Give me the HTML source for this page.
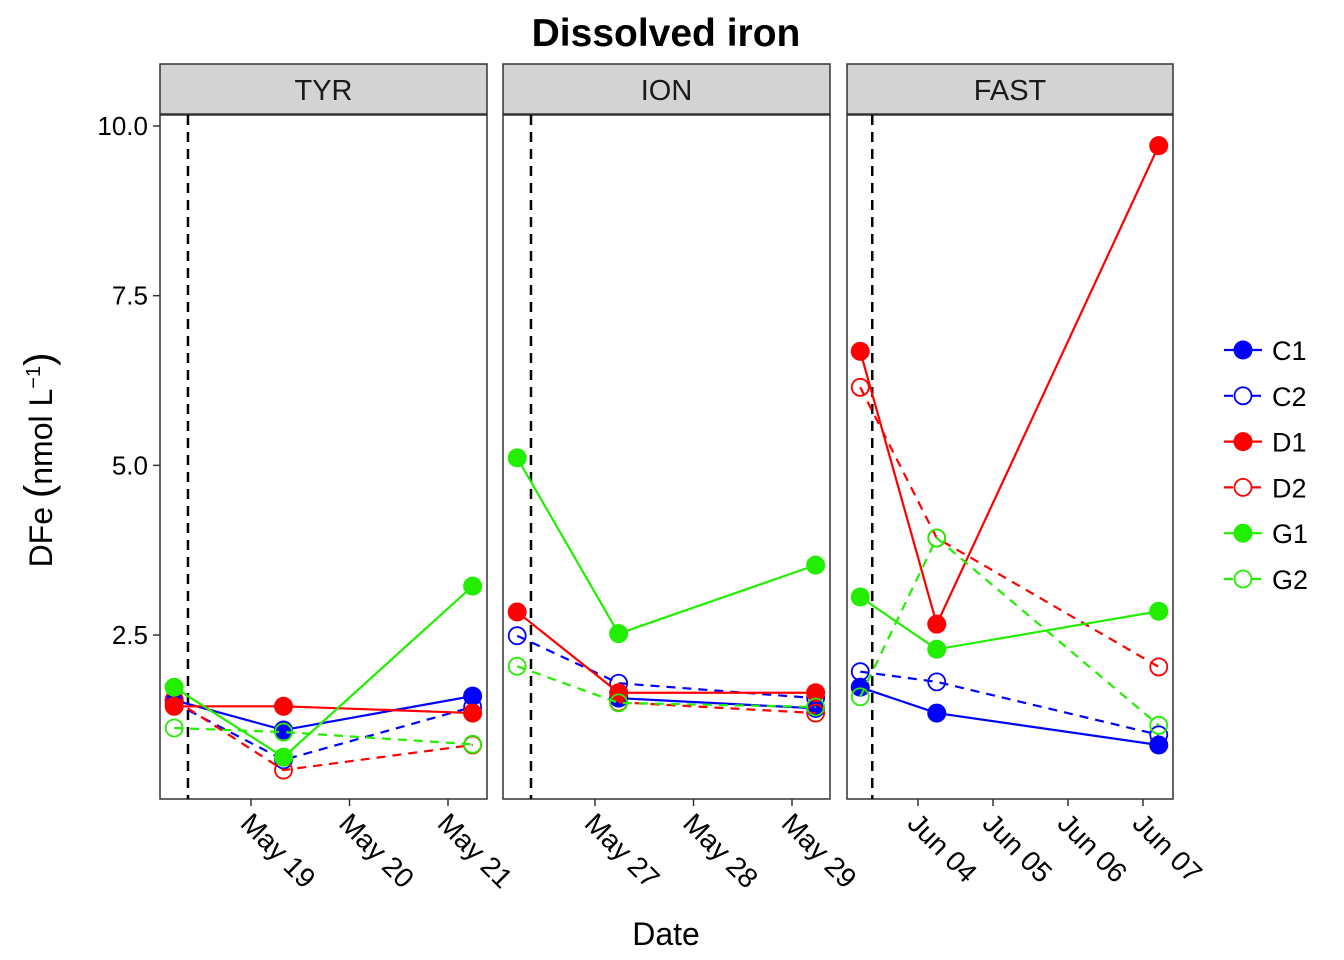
<!DOCTYPE html>
<html><head><meta charset="utf-8"><style>
body{margin:0;background:#fff}
svg{display:block;font-family:"Liberation Sans",Arial,sans-serif}
</style></head><body>
<svg id="chart" width="1344" height="960" viewBox="0 0 1344 960" xmlns="http://www.w3.org/2000/svg">
<text x="666" y="46" text-anchor="middle" font-size="39" font-weight="bold">Dissolved iron</text>
<text transform="translate(52,460) rotate(-90)" text-anchor="middle" font-size="32">DFe <tspan font-size="40">(</tspan>nmol L<tspan dy="-12" font-size="20">−1</tspan><tspan dy="12" font-size="40">)</tspan></text>
<text x="666" y="945" text-anchor="middle" font-size="32">Date</text>
<g id="panels"></g>
<g id="legend"></g>
</svg>
<script>
const panelNames = ["TYR", "ION", "FAST"];
const yTicks = [2.5, 5.0, 7.5, 10.0];
// x positions in fractional day-of-month
const tyrDates = [18.22, 19.33, 21.25];
const ionDates = [26.21, 27.24, 29.24];
const fastDates = [3.23, 4.25, 7.21];
const tyrTicks = [19, 20, 21];
const ionTicks = [27, 28, 29];
const fastTicks = [4, 5, 6, 7];
const tyrTickLabels = ["May 19", "May 20", "May 21"];
const ionTickLabels = ["May 27", "May 28", "May 29"];
const fastTickLabels = ["Jun 04", "Jun 05", "Jun 06", "Jun 07"];
const dashedDates = [18.36, 26.35, 3.39];
const seriesNames = ["C1", "C2", "D1", "D2", "G1", "G2"];
const tyrC1 = [1.54, 1.10, 1.60];
const tyrC2 = [1.50, 0.66, 1.44];
const tyrD1 = [1.45, 1.45, 1.35];
const tyrD2 = [1.55, 0.51, 0.88];
const tyrG1 = [1.73, 0.70, 3.22];
const tyrG2 = [1.13, 1.07, 0.89];
const ionC1 = [null, 1.57, 1.42];
const ionC2 = [2.49, 1.79, 1.57];
const ionD1 = [2.84, 1.65, 1.65];
const ionD2 = [null, 1.51, 1.35];
const ionG1 = [5.11, 2.52, 3.53];
const ionG2 = [2.04, 1.50, 1.44];
const fastC1 = [1.73, 1.35, 0.88];
const fastC2 = [1.96, 1.81, 1.03];
const fastD1 = [6.68, 2.66, 9.71];
const fastD2 = [6.15, 3.93, 2.03];
const fastG1 = [3.06, 2.29, 2.85];
const fastG2 = [1.59, 3.93, 1.17];

const NS = "http://www.w3.org/2000/svg";
const colors = {C1:"#0000ff",C2:"#0000ff",D1:"#ff0000",D2:"#ff0000",G1:"#22ee00",G2:"#22ee00"};
const filled = {C1:true,C2:false,D1:true,D2:false,G1:true,G2:false};
const panels = [
 {name:panelNames[0], left:160, right:487, base:152.5, day0:18, px:98.5, dates:tyrDates, ticks:tyrTicks, labels:tyrTickLabels, dash:dashedDates[0], data:{C1:tyrC1,C2:tyrC2,D1:tyrD1,D2:tyrD2,G1:tyrG1,G2:tyrG2}},
 {name:panelNames[1], left:503, right:830, base:496.5, day0:26, px:98.5, dates:ionDates, ticks:ionTicks, labels:ionTickLabels, dash:dashedDates[1], data:{C1:ionC1,C2:ionC2,D1:ionD1,D2:ionD2,G1:ionG1,G2:ionG2}},
 {name:panelNames[2], left:847, right:1173, base:843, day0:3, px:75, dates:fastDates, ticks:fastTicks, labels:fastTickLabels, dash:dashedDates[2], data:{C1:fastC1,C2:fastC2,D1:fastD1,D2:fastD2,G1:fastG1,G2:fastG2}}
];
const TOP=115, BOT=799;
function yS(v){return 126 + (10 - v) * 67.87;}
function mk(tag, attrs, parent){const e=document.createElementNS(NS,tag);for(const k in attrs)e.setAttribute(k,attrs[k]);parent.appendChild(e);return e;}
const root=document.getElementById("panels");
const ya=mk("g",{},root);


yTicks.forEach(t=>{
  const y=yS(t);
  mk("line",{x1:153,x2:160,y1:y,y2:y,stroke:"#333","stroke-width":1.5},ya);
  const tx=mk("text",{x:148,y:y+9,"text-anchor":"end","font-size":26},ya);
  tx.textContent=t.toFixed(1);
  
  
});
panels.forEach(p=>{
  const g=mk("g",{},root);
  
  
  const xS=d=>p.base+(d-p.day0)*p.px;
  const strip=mk("rect",{x:p.left,y:64,width:p.right-p.left,height:50,fill:"#d3d3d3",stroke:"#333","stroke-width":1.5},g);
  
  
  const st=mk("text",{x:(p.left+p.right)/2,y:100,"text-anchor":"middle","font-size":29,fill:"#1a1a1a"},g);
  st.textContent=p.name;
  
  
  mk("rect",{x:p.left,y:TOP,width:p.right-p.left,height:BOT-TOP,fill:"#fff",stroke:"#333","stroke-width":1.5},g);
  const dl=mk("line",{x1:xS(p.dash),x2:xS(p.dash),y1:TOP,y2:BOT,stroke:"#000","stroke-width":2.5,"stroke-dasharray":"10,7"},g);
  
  
  p.ticks.forEach((t,i)=>{
    const x=xS(t);
    mk("line",{x1:x,x2:x,y1:BOT,y2:BOT+7,stroke:"#333","stroke-width":1.5},g);
    const tx=mk("text",{x:0,y:0,"font-size":28,transform:`translate(${x-12},${BOT+26}) rotate(45)`},g);
    tx.textContent=p.labels[i];
    
    
  });
  seriesNames.forEach(s=>{
    const vals=p.data[s];
    const pts=[];vals.forEach((v,i)=>{if(v!==null)pts.push([xS(p.dates[i]),yS(v)]);});
    const sg=mk("g",{},g);
    
    
    const pl=mk("polyline",{points:pts.map(q=>q.join(",")).join(" "),fill:"none",stroke:colors[s],"stroke-width":2.2},sg);
    if(!filled[s])pl.setAttribute("stroke-dasharray","9,7");
    pts.forEach(q=>{
      const c=filled[s]?mk("circle",{cx:q[0],cy:q[1],r:9.5,fill:colors[s]},sg):mk("circle",{cx:q[0],cy:q[1],r:8.5,fill:"none",stroke:colors[s],"stroke-width":1.8},sg);
      
      
    });
  });
});
const lg=document.getElementById("legend");
seriesNames.forEach((s,i)=>{
  const y=350+i*45.8;
  const e=mk("g",{},lg);
  
  
  const l=mk("line",{x1:1224,x2:1262,y1:y,y2:y,stroke:colors[s],"stroke-width":2.2},e);
  if(!filled[s])l.setAttribute("stroke-dasharray","9,5");
  if(filled[s])mk("circle",{cx:1243,cy:y,r:9.5,fill:colors[s]},e);
  else mk("circle",{cx:1243,cy:y,r:8.5,fill:"#fff",stroke:colors[s],"stroke-width":1.8},e);
  const t=mk("text",{x:1272,y:y+10,"font-size":27},e);
  t.textContent=s;
});
</script>
</body></html>
